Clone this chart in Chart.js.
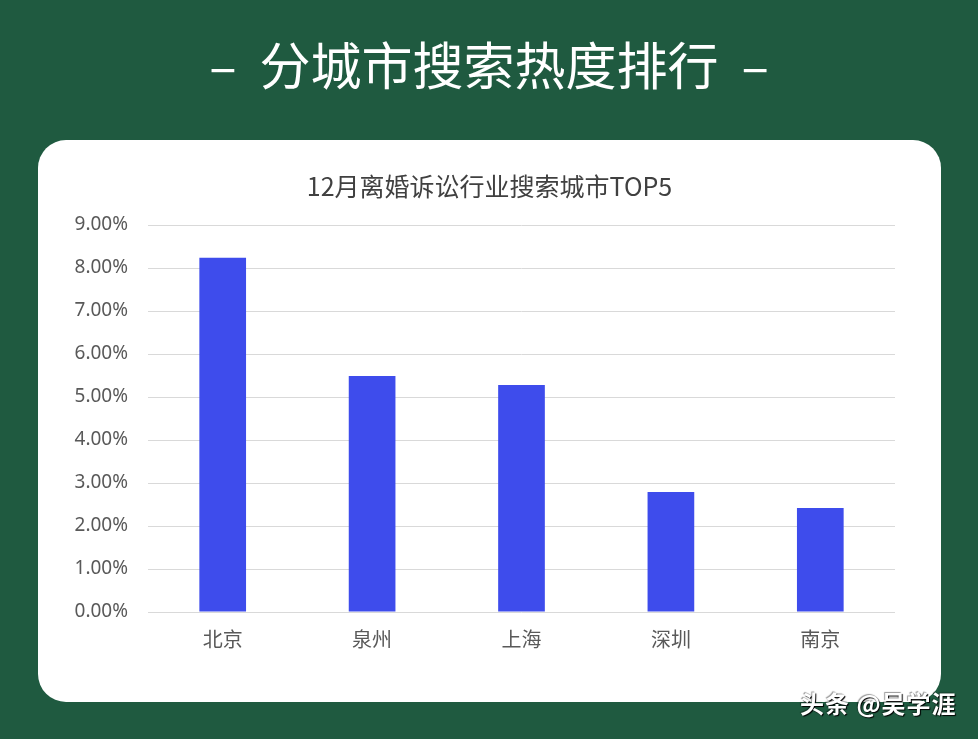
<!DOCTYPE html>
<html>
<head>
<meta charset="utf-8">
<script src="https://cdn.jsdelivr.net/npm/chart.js@4.4.0/dist/chart.umd.min.js"></script>
<style>
  html, body { margin: 0; padding: 0; }
  body {
    width: 978px; height: 739px; overflow: hidden; position: relative;
    background: #1f5a40;
    font-family: "Noto Sans CJK SC", "Noto Sans", sans-serif;
  }
  .page-title {
    position: absolute; left: 0; top: 29px; width: 978px;
    text-align: center; color: #ffffff;
    font-size: 51px; line-height: 68px;
  }
  .page-title .dash { display: inline-block; margin: 0 23px; }
  .card {
    position: absolute; left: 38px; top: 140px; width: 903px; height: 562px;
    background: #ffffff; border-radius: 28px; overflow: hidden;
  }
  .card canvas { display: block; }
  .chart-title {
    position: absolute; left: 0; top: 29px; width: 903px;
    text-align: center; color: #404040;
    font-size: 25px; line-height: 32px;
  }
  .mark {
    position: absolute; left: 800px; top: 685px;
    color: #ffffff; font-size: 24px; font-weight: bold; letter-spacing: 1px;
    text-shadow: 1px 1px 1px #000, -1px -1px 1px rgba(0,0,0,0.4);
  }
</style>
</head>
<body>
<div class="page-title"><span class="dash">–</span>分城市搜索热度排行<span class="dash">–</span></div>
<div class="card">
  <div style="position: relative; width: 903px; height: 562px;">
    <canvas id="cityChart"></canvas>
  </div>
  <div class="chart-title" id="chartTitle"></div>
</div>
<div class="mark">头条 @吴学涯</div>

<script>
// data (percent)
const cities = ['北京', '泉州', '上海', '深圳', '南京'];
const searchShare = [8.24, 5.49, 5.28, 2.79, 2.42];
const yMax = 9;
const yStep = 1;

const chartTitle = '12月离婚诉讼行业搜索城市TOP5';
const labelGrey = '#595959';

// title is centred on the whole card, not on the plot area
document.getElementById('chartTitle').textContent = chartTitle;

const ctx = document.getElementById('cityChart').getContext('2d');

new Chart(ctx, {
    type: 'bar',
    data: {
        labels: cities,
        datasets: [{
            label: '搜索热度',
            data: searchShare,
            backgroundColor: '#3e4cec',
            borderWidth: 0,
            barPercentage: 1,
            categoryPercentage: 0.3125
        }]
    },
    options: {
        responsive: true,
        maintainAspectRatio: false,
        animation: false,
        layout: {
            padding: { left: 0, right: 46, top: 85, bottom: 36 }
        },
        scales: {
            x: {
                grid: { display: false, drawTicks: false },
                border: { display: false },
                ticks: {
                    color: labelGrey,
                    padding: 15,
                    font: { size: 20, family: '"Noto Sans CJK SC", sans-serif' }
                }
            },
            y: {
                min: 0,
                max: yMax,
                afterFit: function(scale) { scale.width = 110; },
                grid: { color: '#d9d9d9', lineWidth: 1, drawTicks: false },
                border: { display: false },
                ticks: {
                    stepSize: yStep,
                    color: labelGrey,
                    padding: 20,
                    font: { size: 19, family: '"Noto Sans", sans-serif' },
                    callback: function(value) {
                        return value.toFixed(2) + '%';
                    }
                }
            }
        },
        plugins: {
            legend: { display: false },
            tooltip: { enabled: false },
            title: { display: false }
        }
    }
});
</script>
</body>
</html>
